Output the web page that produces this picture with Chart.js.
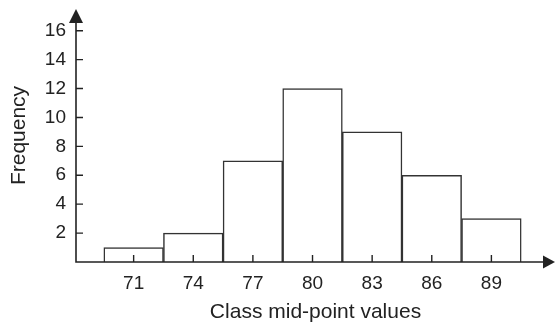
<!DOCTYPE html>
<html>
<head>
<meta charset="utf-8">
<script src="https://cdn.jsdelivr.net/npm/chart.js@4"></script>
<style>
  html, body { margin: 0; padding: 0; background: #fff; }
  #wrap { width: 555px; height: 325px; }
</style>
</head>
<body>
<div id="wrap"><canvas id="hist"></canvas></div>
<script>
// class mid-points and frequencies
const midPoints = [71, 74, 77, 80, 83, 86, 89];
const frequencies = [1, 2, 7, 12, 9, 6, 3];
const yTicks = [2, 4, 6, 8, 10, 12, 14, 16];

const ink = '#222';
const font = "'Liberation Sans', Arial, sans-serif";

// axis arrows + inward tick marks
const axisArrows = {
  id: 'axisArrows',
  afterDraw(chart) {
    const { ctx, chartArea: a, scales: { x, y } } = chart;
    ctx.save();
    ctx.strokeStyle = ink;
    ctx.fillStyle = ink;
    ctx.lineWidth = 1.6;
    // axes
    ctx.beginPath();
    ctx.moveTo(a.left, a.top + 6);
    ctx.lineTo(a.left, a.bottom);
    ctx.lineTo(a.right - 6, a.bottom);
    ctx.stroke();
    // arrow heads
    ctx.beginPath();
    ctx.moveTo(a.right, a.bottom);
    ctx.lineTo(a.right - 12, a.bottom - 6.5);
    ctx.lineTo(a.right - 12, a.bottom + 6.5);
    ctx.closePath();
    ctx.fill();
    ctx.beginPath();
    ctx.moveTo(a.left, a.top);
    ctx.lineTo(a.left - 7, a.top + 14);
    ctx.lineTo(a.left + 7, a.top + 14);
    ctx.closePath();
    ctx.fill();
    // ticks
    ctx.lineWidth = 1.4;
    ctx.beginPath();
    midPoints.forEach(v => {
      const px = x.getPixelForValue(v);
      ctx.moveTo(px, a.bottom);
      ctx.lineTo(px, a.bottom - 7);
    });
    yTicks.forEach(v => {
      const py = y.getPixelForValue(v);
      ctx.moveTo(a.left, py);
      ctx.lineTo(a.left + 7, py);
    });
    ctx.stroke();
    ctx.restore();
  }
};

new Chart(document.getElementById('hist'), {
  type: 'bar',
  data: {
    datasets: [{
      data: midPoints.map((m, i) => ({ x: m, y: frequencies[i] })),
      backgroundColor: '#fff',
      borderColor: '#333',
      borderWidth: 1.5,
      barPercentage: 1,
      categoryPercentage: 1
    }]
  },
  plugins: [axisArrows],
  options: {
    responsive: true, maintainAspectRatio: false,
    animation: false,
    layout: { padding: { top: 9, right: 0, left: 0, bottom: 0 } },
    plugins: { legend: { display: false }, tooltip: { enabled: false } },
    scales: {
      x: {
        type: 'linear', min: 68.1, max: 92.2, offset: false,
        afterBuildTicks: s => { s.ticks = midPoints.map(v => ({ value: v })); },
        afterFit: s => { s.height = 63; s.paddingLeft = 0; s.paddingRight = 0; },
        grid: { display: false, drawTicks: false, offset: false },
        border: { display: false },
        ticks: { color: ink, padding: 10, font: { family: font, size: 19 }, maxRotation: 0 },
        title: { display: true, text: 'Class mid-point values', color: ink, font: { family: font, size: 21 }, padding: { top: 7, bottom: 0 } }
      },
      y: {
        min: 0, max: 17.5,
        afterBuildTicks: s => { s.ticks = yTicks.map(v => ({ value: v })); },
        afterFit: s => { s.width = 76; s.paddingTop = 0; s.paddingBottom = 0; },
        grid: { display: false, drawTicks: false },
        border: { display: false },
        ticks: { color: ink, padding: 10, font: { family: font, size: 19 } },
        title: { display: true, text: 'Frequency', color: ink, font: { family: font, size: 21 }, padding: { top: 7, bottom: 0 } }
      }
    }
  }
});
</script>
</body>
</html>
